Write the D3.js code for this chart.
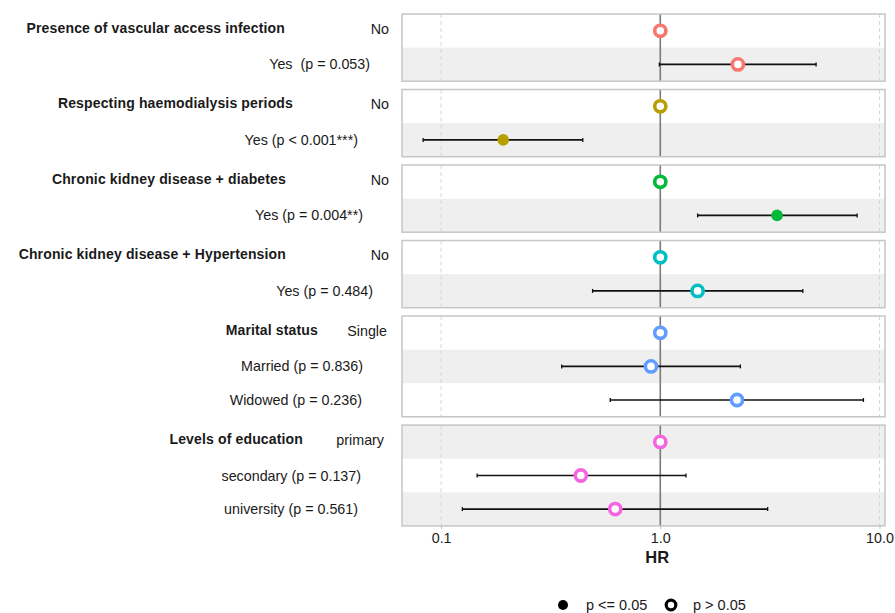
<!DOCTYPE html>
<html><head><meta charset="utf-8">
<script src="https://cdn.jsdelivr.net/npm/d3@7"></script>
<style>
body{margin:0;background:#fff;}
text{font-family:"Liberation Sans",Arial,sans-serif;fill:#1a1a1a;white-space:pre;}
</style></head>
<body><svg id="c" width="895" height="613"></svg>
<script>
// ---- data ----
const variables = ["Presence of vascular access infection","Respecting haemodialysis periods","Chronic kidney disease + diabetes","Chronic kidney disease + Hypertension","Marital status","Levels of education"];
const levelLabels = [
  ["No","Yes  (p = 0.053)"],
  ["No","Yes (p < 0.001***)"],
  ["No","Yes (p = 0.004**)"],
  ["No","Yes (p = 0.484)"],
  ["Single","Married (p = 0.836)","Widowed (p = 0.236)"],
  ["primary","secondary (p = 0.137)","university (p = 0.561)"]
];
const hr    = [[1,2.26],[1,0.192],[1,3.41],[1,1.48],[1,0.907,2.24],[1,0.434,0.623]];
const ciLow = [[null,0.99],[null,0.0828],[null,1.48],[null,0.491],[null,0.355,0.591],[null,0.146,0.125]];
const ciHigh= [[null,5.14],[null,0.443],[null,7.91],[null,4.47],[null,2.32,8.45],[null,1.31,3.09]];
const pvals = [[null,0.053],[null,0.0005],[null,0.004],[null,0.484],[null,0.836,0.236],[null,0.137,0.561]];
const xTicks = [0.1,1,10];
const legendLabels = ["p <= 0.05","p > 0.05"];

// ---- layout (not data) ----
const colors = ["#F8766D","#B79F00","#00BA38","#00BFC4","#619CFF","#F564E3"];
const stripeOffset = [1,1,1,1,1,0];      // which row parity is shaded
const nameRight = [285,293,286,286,318,303];
const refRight = [389,389,389,389,387,384];
const lvlRight = [[0,370],[0,358],[0,363],[0,373],[0,363,362],[0,361,358]];
const rowH = 33.6, gap = 8.3, top0 = 14;

const svg = d3.select("#c");
const x = d3.scaleLog().domain([0.0663,10.6]).range([402,885]);
const [x0,x1] = x.range();

let y = top0;
variables.forEach((v,i)=>{
  const n = levelLabels[i].length;
  const g = svg.append("g");
  const ptop = y, pbot = y + n*rowH;
  const yRow = d3.scaleBand().domain(d3.range(n)).range([ptop,pbot]);
  d3.range(n).forEach(r=>{
    if (r%2===stripeOffset[i]) g.append("rect").attr("x",x0).attr("y",yRow(r)).attr("width",x1-x0).attr("height",yRow.bandwidth()).attr("fill","#efefef");
  });
  xTicks.forEach(t=>{
    if (t!==1) g.append("line").attr("x1",x(t)).attr("x2",x(t)).attr("y1",ptop).attr("y2",pbot).attr("stroke","#d6d6d6").attr("stroke-dasharray","4,3").attr("stroke-width",1);
  });
  g.append("line").attr("x1",x(1)).attr("x2",x(1)).attr("y1",ptop).attr("y2",pbot).attr("stroke","#7a7a7a").attr("stroke-width",1.6);
  g.append("rect").attr("x",x0).attr("y",ptop).attr("width",x1-x0).attr("height",pbot-ptop).attr("fill","none").attr("stroke","#c6c6c6").attr("stroke-width",1.5);
  g.append("text").attr("x",nameRight[i]).attr("y",yRow(0)+yRow.bandwidth()/2-3).attr("text-anchor","end").attr("dominant-baseline","central").attr("font-size",14).attr("font-weight","bold").attr("letter-spacing",0.15).text(v);
  levelLabels[i].forEach((l,r)=>{
    g.append("text").attr("x", r===0?refRight[i]:lvlRight[i][r]).attr("y",yRow(r)+yRow.bandwidth()/2+(r===0?-2:0)).attr("text-anchor","end").attr("dominant-baseline","central").attr("font-size",14.3).text(l);
  });
  d3.range(n).forEach(r=>{
    const cy = yRow(r)+yRow.bandwidth()/2;
    if (ciLow[i][r]!=null){
      g.append("line").attr("x1",x(ciLow[i][r])).attr("x2",x(ciHigh[i][r])).attr("y1",cy).attr("y2",cy).attr("stroke","#111").attr("stroke-width",1.6);
      [ciLow[i][r],ciHigh[i][r]].forEach(e=>g.append("line").attr("x1",x(e)).attr("x2",x(e)).attr("y1",cy-2).attr("y2",cy+2).attr("stroke","#111").attr("stroke-width",1.3));
    }
    const sig = pvals[i][r]!=null && pvals[i][r]<=0.05;
    if (sig) g.append("circle").attr("cx",x(hr[i][r])).attr("cy",cy).attr("r",5.8).attr("fill",colors[i]);
    else g.append("circle").attr("cx",x(hr[i][r])).attr("cy",cy).attr("r",5.6).attr("fill","#fff").attr("stroke",colors[i]).attr("stroke-width",3.6);
  });
  y = pbot + gap;
});

const lastBottom = y - gap;
const ax = svg.append("g").attr("transform",`translate(0,${lastBottom})`)
  .call(d3.axisBottom(x).tickValues(xTicks).tickFormat(d3.format(".1f")).tickSize(3).tickPadding(4));
ax.select(".domain").remove();
ax.selectAll(".tick line").attr("stroke","#bbb");
ax.selectAll(".tick text").attr("font-size",14.3).attr("fill","#1a1a1a").attr("font-family","Liberation Sans, Arial, sans-serif");
svg.append("text").attr("x",x(1)-3).attr("y",563).attr("text-anchor","middle").attr("font-size",16.5).attr("font-weight","bold").text("HR");

const lg = svg.append("g");
lg.append("circle").attr("cx",563).attr("cy",605).attr("r",5).attr("fill","#000");
lg.append("text").attr("x",586).attr("y",605).attr("dominant-baseline","central").attr("font-size",14.5).text(legendLabels[0]);
lg.append("circle").attr("cx",671).attr("cy",605).attr("r",4.8).attr("fill","#fff").attr("stroke","#000").attr("stroke-width",3.2);
lg.append("text").attr("x",693).attr("y",605).attr("dominant-baseline","central").attr("font-size",14.5).text(legendLabels[1]);
</script></body></html>
